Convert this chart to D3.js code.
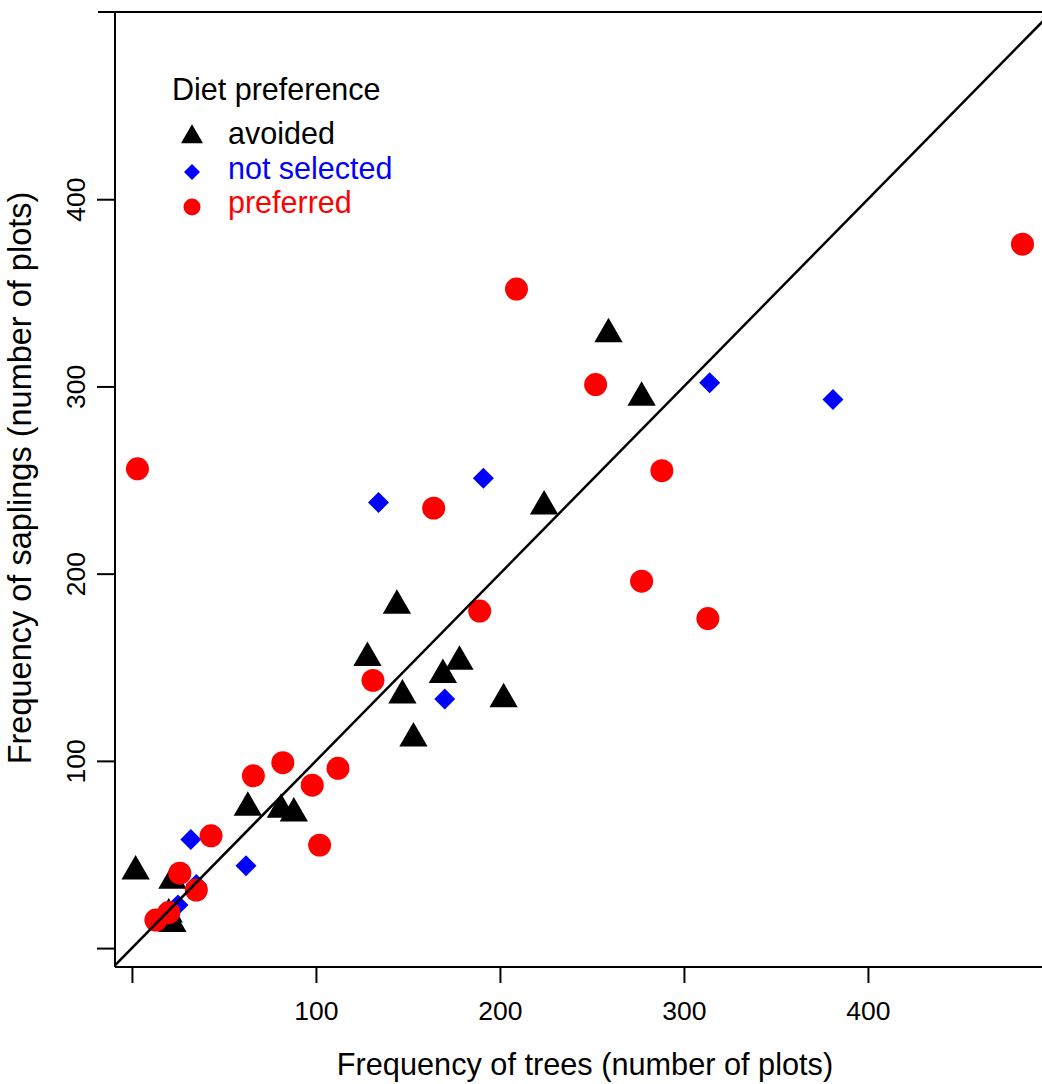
<!DOCTYPE html>
<html>
<head>
<meta charset="utf-8">
<script src="https://cdn.jsdelivr.net/npm/d3@7"></script>
<style>
  body { margin: 0; background: #fff; }
  text { font-family: "Liberation Sans", Arial, sans-serif; }
</style>
</head>
<body>
<div id="chart"></div>
<script>
// frequency of trees vs frequency of saplings, by diet preference
const avoided = [
  [2, 41], [22, 36], [20, 18], [22, 13], [63, 75], [81, 74], [88, 72],
  [128, 155], [144, 183], [147, 135], [153, 112], [169, 146], [178, 153],
  [202, 133], [224, 236], [259, 328], [277, 294]
];
const notSelected = [
  [25, 23], [35, 34], [32, 58], [62, 44], [134, 238], [170, 133],
  [191, 251], [314, 302], [381, 293]
];
const preferred = [
  [3, 256], [13, 15], [20, 19], [26, 40], [35, 31], [43, 60], [66, 92],
  [82, 99], [98, 87], [102, 55], [112, 96], [131, 143], [164, 235],
  [189, 180], [209, 352], [252, 301], [277, 196], [288, 255], [313, 176],
  [484, 376]
];
const tickValues = [0, 100, 200, 300, 400];
const legendLabels = ['avoided', 'not selected', 'preferred'];
const legendColors = ['#000000', '#0000ff', '#ff0000'];

const width = 1042, height = 1084;
const pLeft = 115, pRight = 1042, pTop = 12, pBottom = 967;

const svg = d3.select('#chart').append('svg')
  .attr('width', width)
  .attr('height', height);

let x = d3.scaleLinear().domain([-9.2, 494.6]).range([pLeft, pRight]);
let y = d3.scaleLinear().domain([-10.1, 500]).range([pBottom, pTop]);

svg.append('clipPath').attr('id', 'plotclip')
  .append('rect')
  .attr('x', pLeft).attr('y', pTop)
  .attr('width', pRight - pLeft).attr('height', pBottom - pTop);

// frame
svg.append('line')
  .attr('x1', pLeft).attr('x2', pLeft).attr('y1', pTop).attr('y2', pBottom)
  .attr('stroke', '#000').attr('stroke-width', 2);
svg.append('line')
  .attr('x1', pLeft).attr('x2', pRight).attr('y1', pBottom).attr('y2', pBottom)
  .attr('stroke', '#000').attr('stroke-width', 2);
svg.append('line')
  .attr('x1', 98).attr('x2', pRight).attr('y1', pTop).attr('y2', pTop)
  .attr('stroke', '#000').attr('stroke-width', 2);

// x axis
let xAxis = d3.axisBottom(x).tickValues(tickValues).tickSize(16).tickPadding(19)
  .tickFormat(d => d === 0 ? '' : d);
let gx = svg.append('g').attr('transform', `translate(0,${pBottom})`).call(xAxis);
gx.select('.domain').remove();
gx.selectAll('.tick line').attr('stroke', '#000').attr('stroke-width', 2);
gx.selectAll('.tick text')
  .attr('font-size', 26.5).attr('fill', '#000')
  .attr('dy', null).attr('y', 53);

// y axis
let yAxis = d3.axisLeft(y).tickValues(tickValues).tickSize(18)
  .tickFormat(d => d === 0 ? '' : d);
let gy = svg.append('g').attr('transform', `translate(${pLeft},0)`).call(yAxis);
gy.select('.domain').remove();
gy.selectAll('.tick line').attr('stroke', '#000').attr('stroke-width', 2);
gy.selectAll('.tick text')
  .attr('font-size', 26.5).attr('fill', '#000')
  .attr('x', null).attr('dy', null)
  .attr('text-anchor', 'middle')
  .attr('transform', 'translate(-30,0) rotate(-90)');

// axis titles
svg.append('text')
  .attr('x', 585).attr('y', 1075)
  .attr('text-anchor', 'middle').attr('font-size', 30.7)
  .text('Frequency of trees (number of plots)');
svg.append('text')
  .attr('transform', 'translate(31,478) rotate(-90)')
  .attr('text-anchor', 'middle').attr('font-size', 32.5)
  .text('Frequency of saplings (number of plots)');

// points
let pts = svg.append('g').attr('clip-path', 'url(#plotclip)');
let tri = d3.symbol().type(d3.symbolTriangle).size(347);
let sq = d3.symbol().type(d3.symbolSquare).size(220);
let circ = d3.symbol().type(d3.symbolCircle).size(415);

pts.selectAll('.avoided').data(avoided).enter().append('path')
  .attr('d', tri)
  .attr('transform', d => `translate(${x(d[0])},${y(d[1])})`)
  .attr('fill', legendColors[0]);
pts.selectAll('.notsel').data(notSelected).enter().append('path')
  .attr('d', sq)
  .attr('transform', d => `translate(${x(d[0])},${y(d[1])}) rotate(45)`)
  .attr('fill', legendColors[1]);
pts.selectAll('.pref').data(preferred).enter().append('path')
  .attr('d', circ)
  .attr('transform', d => `translate(${x(d[0])},${y(d[1])})`)
  .attr('fill', legendColors[2]);

// 1:1 line
pts.append('line')
  .attr('x1', x(-20)).attr('y1', y(-20))
  .attr('x2', x(520)).attr('y2', y(520))
  .attr('stroke', '#000').attr('stroke-width', 2.5);

// legend
let lg = svg.append('g');
lg.append('text').attr('x', 172).attr('y', 100).attr('font-size', 30.5)
  .text('Diet preference');
let legendSyms = [
  d3.symbol().type(d3.symbolTriangle).size(210),
  d3.symbol().type(d3.symbolSquare).size(128),
  d3.symbol().type(d3.symbolCircle).size(227)
];
legendLabels.forEach((lab, i) => {
  let cy = 137 + i * 35;
  lg.append('path')
    .attr('d', legendSyms[i])
    .attr('transform', `translate(192,${cy})` + (i === 1 ? ' rotate(45)' : ''))
    .attr('fill', legendColors[i]);
  lg.append('text').attr('x', 228).attr('y', 144 + i * 34.5)
    .attr('font-size', 30.5).attr('fill', legendColors[i])
    .text(lab);
});
</script>
</body>
</html>
